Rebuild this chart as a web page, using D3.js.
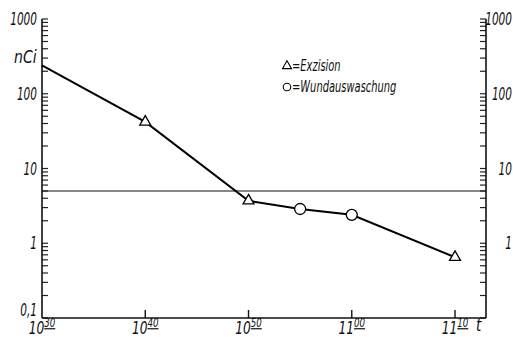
<!DOCTYPE html>
<html>
<head>
<meta charset="utf-8">
<script src="https://cdn.jsdelivr.net/npm/d3@7"></script>
<style>
  body { margin: 0; background: #fff; }
  text { font-family: "DejaVu Sans", sans-serif; font-style: italic; fill: #111; }
</style>
</head>
<body>
<div id="chart"></div>
<script>
// time in minutes after 10:30
const exzisionTimes = [10, 20, 40]
const exzisionValues = [42, 3.7, 0.65]
const circleTimes = [25, 30]
const circleValues = [2.87, 2.4]
const lineTimes = [0, 10, 20, 25, 30, 40]
const lineValues = [240, 42, 3.7, 2.87, 2.4, 0.65]
const limitValue = 5
const xTicks = [0, 10, 20, 30, 40]
const xTickLabels = [['10', '30'], ['10', '40'], ['10', '50'], ['11', '00'], ['11', '10']]
const yLabels = [1000, 100, 10, 1, 0.1]
const legendNames = ['Exzision', 'Wundauswaschung']

const W = 513, H = 340
const mLeft = 42, mRight = 486, mTop = 19, mBottom = 318
const squeeze = 0.62   // narrow italic lettering

const svg = d3.select('#chart').append('svg')
  .attr('width', W).attr('height', H)

const x = d3.scaleLinear().domain([0, 43]).range([mLeft, mRight])
const y = d3.scaleLog().domain([0.1, 1000]).range([mBottom, mTop])

function label(g, px, py, size, anchor, sx) {
  return g.append('text')
    .attr('transform', `translate(${px},${py}) scale(${sx || squeeze},1)`)
    .attr('font-size', size)
    .attr('text-anchor', anchor || 'start')
}

// minor + major ticks on both vertical axes
const yTickVals = []
for (let e = -1; e < 3; e++) {
  for (let m = 1; m < 10; m++) yTickVals.push(m * Math.pow(10, e))
}
yTickVals.push(1000)

svg.append('g').selectAll('line')
  .data(yTickVals).enter().append('line')
  .attr('x1', mLeft).attr('x2', mLeft + 6)
  .attr('y1', d => y(d)).attr('y2', d => y(d))
  .attr('stroke', '#222').attr('stroke-width', 1.2)

svg.append('g').selectAll('line')
  .data(yTickVals).enter().append('line')
  .attr('x1', mRight - 6).attr('x2', mRight)
  .attr('y1', d => y(d)).attr('y2', d => y(d))
  .attr('stroke', '#222').attr('stroke-width', 1.2)

// axis lines
svg.append('line').attr('x1', mLeft).attr('x2', mLeft).attr('y1', mTop).attr('y2', mBottom)
  .attr('stroke', '#111').attr('stroke-width', 1.6)
svg.append('line').attr('x1', mRight).attr('x2', mRight).attr('y1', mTop).attr('y2', mBottom)
  .attr('stroke', '#111').attr('stroke-width', 1.6)
svg.append('line').attr('x1', mLeft).attr('x2', mRight).attr('y1', mBottom).attr('y2', mBottom)
  .attr('stroke', '#111').attr('stroke-width', 1.6)

// x ticks
svg.append('g').selectAll('line')
  .data(xTicks.slice(1)).enter().append('line')
  .attr('x1', d => x(d)).attr('x2', d => x(d))
  .attr('y1', mBottom).attr('y2', mBottom - 8)
  .attr('stroke', '#111').attr('stroke-width', 1.4)

// y labels left and right
const fmt = v => v < 1 ? '0,1' : String(v)
const ly = svg.append('g')
yLabels.forEach(v => {
  const dy = v < 1 ? -2 : 6
  label(ly, 37, y(v) + dy, 17, 'end').text(fmt(v))
})
const ry = svg.append('g')
yLabels.slice(0, 4).forEach(v => {
  label(ry, 512, y(v) + 6, 17, 'end').text(fmt(v))
})

// x labels with underlined superscript minutes
const xg = svg.append('g')
xTicks.forEach((t, i) => {
  const tx = label(xg, x(t), 334, 17, 'middle', 0.72)
  tx.append('tspan').text(xTickLabels[i][0])
  tx.append('tspan').attr('dy', -7).attr('font-size', 12)
    .attr('text-decoration', 'underline')
    .text(xTickLabels[i][1])
})

label(svg, 14, 63, 18, 'start', 0.78).text('nCi')
label(svg, 476, 331, 17, 'start', 0.8).text('t')

// horizontal limit line
svg.append('line')
  .attr('x1', mLeft).attr('x2', mRight)
  .attr('y1', y(limitValue)).attr('y2', y(limitValue))
  .attr('stroke', '#111').attr('stroke-width', 1.2)

// data line
const line = d3.line().x(d => x(d[0])).y(d => y(d[1]))
svg.append('path')
  .datum(d3.zip(lineTimes, lineValues))
  .attr('d', line)
  .attr('fill', 'none').attr('stroke', '#000').attr('stroke-width', 2)

const tri = d3.symbol().type(d3.symbolTriangle).size(52)
svg.append('g').selectAll('path')
  .data(d3.zip(exzisionTimes, exzisionValues)).enter().append('path')
  .attr('d', tri)
  .attr('transform', d => `translate(${x(d[0])},${y(d[1])})`)
  .attr('fill', '#fff').attr('stroke', '#000').attr('stroke-width', 1.3)

svg.append('g').selectAll('circle')
  .data(d3.zip(circleTimes, circleValues)).enter().append('circle')
  .attr('cx', d => x(d[0])).attr('cy', d => y(d[1])).attr('r', 5.5)
  .attr('fill', '#fff').attr('stroke', '#000').attr('stroke-width', 1.3)

// legend
const triSmall = d3.symbol().type(d3.symbolTriangle).size(36)
const lg = svg.append('g').attr('transform', 'translate(287,0)')
lg.append('path').attr('d', triSmall).attr('transform', 'translate(0,66)')
  .attr('fill', '#fff').attr('stroke', '#000').attr('stroke-width', 1.1)
lg.append('circle').attr('cx', 0).attr('cy', 87).attr('r', 3.8)
  .attr('fill', '#fff').attr('stroke', '#000').attr('stroke-width', 1.1)
legendNames.forEach((n, i) => {
  label(lg, 5, 71 + i * 21, 16, 'start', 0.62).text('=' + n)
})
</script>
</body>
</html>
